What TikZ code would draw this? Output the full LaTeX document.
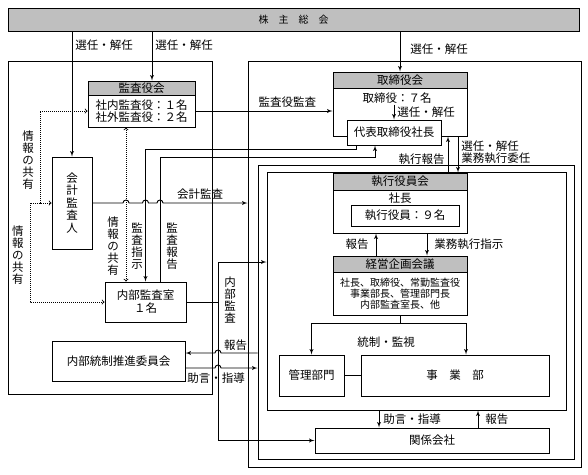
\documentclass[tikz,border=0pt]{standalone}
\usepackage{fontspec}
\setmainfont{Noto Sans CJK JP}
\usetikzlibrary{arrows,calc}

\begin{document}
\begin{tikzpicture}[>=latex',x=1pt,y=-1pt,line width=0.9pt]
 \tikzstyle{frame}=[draw,rectangle,inner sep=0pt,line width=1pt]
 \tikzstyle{box}=[draw,rectangle,inner sep=0pt,line width=1pt,fill=white,align=center,font=\fontsize{11.5}{13}\selectfont]
 \tikzstyle{head}=[box,fill=gray!50,anchor=north]
 \tikzstyle{txt}=[inner sep=0pt,align=center,font=\fontsize{11.5}{12.5}\selectfont]
 \tikzstyle{lbl}=[inner sep=0pt,align=left,font=\fontsize{11.5}{12}\selectfont]
 \tikzstyle{vlbl}=[inner sep=0pt,align=center,font=\fontsize{11.5}{12}\selectfont]
 \tikzstyle{small}=[inner sep=0pt,align=center,font=\fontsize{10}{11}\selectfont]
 \tikzstyle{info}=[dash pattern=on 1pt off 1pt,<->,>=to]

 \useasboundingbox (0,0) rectangle (588,474);

 \node (meeting) at (293.5,19.5) [box,fill=gray!50,minimum width=571pt,minimum height=23pt,font=\fontsize{10}{12}\selectfont] {株　主　総　会};
 \node (leftframe) at (110,227.5) [frame,minimum width=204pt,minimum height=333pt] {};
 \node (outerframe) at (414.5,264) [frame,minimum width=333pt,minimum height=406pt] {};
 \node (midframe) at (416,312) [frame,minimum width=316pt,minimum height=294pt] {};
 \node (innerframe) at (416.5,291) [frame,minimum width=299pt,minimum height=238pt] {};

 % audit side
 \node (kansa) at (141.5,104) [box,minimum width=107pt,minimum height=46pt] {};
 \node (kansaH) at (kansa.north) [head,minimum width=107pt,minimum height=14pt] {監査役会};
 \node (kansaTxt) at (141.5,111) [txt] {社内監査役：１名\\社外監査役：２名};
 \node (kaikei) at (72,203) [box,minimum width=40pt,minimum height=92pt,font=\fontsize{11.5}{12.5}\selectfont] {会\\計\\監\\査\\人};
 \node (naibu) at (145.5,302) [box,minimum width=81pt,minimum height=40pt] {内部監査室\\１名};
 \node (tosei) at (118.5,361) [box,minimum width=133pt,minimum height=40pt] {内部統制推進委員会};

 % board side
 \node (tori) at (400,104) [box,minimum width=134pt,minimum height=64pt] {};
 \node (toriH) at (tori.north) [head,minimum width=134pt,minimum height=16pt] {取締役会};
 \node (toriTxt) at (397,98) [txt] {取締役：７名};
 \node (daihyo) at (394,132.5) [box,minimum width=94pt,minimum height=25pt] {代表取締役社長};

 \node (shikko) at (400,203) [box,minimum width=134pt,minimum height=60pt] {};
 \node (shikkoH) at (shikko.north) [head,minimum width=134pt,minimum height=17pt] {執行役員会};
 \node (shacho) at (400,198.5) [txt] {社長};
 \node (yakuin) at (405,215.5) [box,minimum width=108pt,minimum height=21pt] {執行役員：９名};

 \node (keiei) at (400,285.5) [box,minimum width=134pt,minimum height=59pt] {};
 \node (keieiH) at (keiei.north) [head,minimum width=134pt,minimum height=16pt] {経営企画会議};
 \node (member) at (400,294) [small] {社長、取締役、常勤監査役\\事業部長、管理部門長\\内部監査室長、他};

 \node (kanri) at (311.5,375.5) [box,minimum width=65pt,minimum height=41pt] {管理部門};
 \node (jigyo) at (455,375.5) [box,minimum width=188pt,minimum height=41pt] {事　業　部};
 \node (kankei) at (432,440.5) [box,minimum width=234pt,minimum height=25pt] {関係会社};

 \coordinate (audit) at (0,111);
 \coordinate (instr) at (356,149);
 \coordinate (rep) at (375,157);
 \coordinate (share1) at (40,160);
 \coordinate (share2) at (30,250);
 \coordinate (share3) at (126,200);
 \coordinate (audIn) at (218,262);
 \coordinate (rA) at (0,353);
 \coordinate (rB) at (0,368);
 \coordinate (ctl) at (0,323);
 \coordinate (kansaIn) at ([xshift=10.5pt]kansa.north);
 \coordinate (upR) at ([xshift=48pt]shikko.north);
 \coordinate (dnR) at ([xshift=58pt]shikko.north);
 \coordinate (advK) at ([xshift=-53pt]kankei.north);
 \coordinate (repK) at ([xshift=46pt]kankei.north);
 \coordinate (ctlR) at ([xshift=11pt]jigyo.north);

 \draw [->] (meeting.south -| kaikei.north) to node[lbl,pos=0.11,anchor=west,xshift=3pt] {選任・解任} (kaikei.north);
 \draw [->] (meeting.south -| kansaIn) to node[lbl,pos=0.28,anchor=west,xshift=3pt] {選任・解任} (kansaIn);
 \draw [->] (meeting.south -| tori.north) to node[lbl,pos=0.44,anchor=west,xshift=10pt] {選任・解任} (tori.north);
 \draw [->] (kansa.east |- audit) to node[lbl,pos=0.67,above=3pt] {監査役監査} (tori.west |- audit);
 \draw [->] ([yshift=15pt]daihyo.north) to node[lbl,right=3pt] {選任・解任} (daihyo.north);

 \draw [->] (daihyo.south -| instr) -- (instr) -| (naibu.north);
 \draw [->] ([xshift=14.5pt]naibu.north) |- (rep) -- (daihyo.south -| rep);
 % hops over the three uprights
 \draw [->] (kaikei.east) -- (123,203) arc[start angle=180,end angle=0,radius=3pt]
   -- (142.5,203) arc[start angle=180,end angle=0,radius=3pt]
   -- (157,203) arc[start angle=180,end angle=0,radius=3pt]
   -- node[lbl,above=3pt,pos=0.44] {会計監査} (outerframe.west |- kaikei.east);

 \draw [info] (kansa.west |- audit) -| (share1) |- (kaikei.west);
 \draw [info,->] (share1 |- kaikei.west) -| (share2) |- (naibu.west);
 \draw [info] (kansa.south -| share3) -- (naibu.north -| share3);

 \draw [->] (naibu.east) -| (audIn) -- (innerframe.west |- audIn);
 \draw [->] (audIn) |- (kankei.west);
 \draw [->] (midframe.west |- rA) -- node[lbl,above=2pt,pos=0.6] {報告} (221,353)
   arc[start angle=0,end angle=180,radius=3pt] -- (tosei.east |- rA);
 \draw [->] (tosei.east |- rB) -- (215,368) arc[start angle=180,end angle=0,radius=3pt] -- (midframe.west |- rB);
 \node (advice) at (216,378) [lbl] {助言・指導};

 \draw [->] (upR) to node[lbl,pos=0.38,anchor=east,xshift=-3pt] {執行報告} (upR |- tori.south);
 \draw [->] (dnR |- tori.south) to node[lbl,pos=0.43,anchor=west,xshift=3pt] {選任・解任\\業務執行委任} (dnR);
 \draw [->] ([xshift=-24pt]keiei.north) to node[lbl,left=7pt] {報告} ([xshift=-24pt]shikko.south);
 \draw [->] ([xshift=27pt]shikko.south) to node[lbl,right=7pt] {業務執行指示} ([xshift=27pt]keiei.north);
 \draw (keiei.south) -- (keiei.south |- ctl);
 \draw [->] (keiei.south |- ctl) -| (kanri.north);
 \draw [->] (keiei.south |- ctl) -| (ctlR);
 \node (ctlTxt) at (386,342) [lbl] {統制・監視};
 \draw (kanri) -- (jigyo);
 \draw [->] (advK |- innerframe.south) to node[lbl,right=4pt] {助言・指導} (advK);
 \draw [->] (repK) to node[lbl,right=7pt] {報告} (repK |- innerframe.south);

 \node (share1Txt) at (28,160) [vlbl] {情\\報\\の\\共\\有};
 \node (share2Txt) at (18,255) [vlbl] {情\\報\\の\\共\\有};
 \node (share3Txt) at (113,246) [vlbl] {情\\報\\の\\共\\有};
 \node (instrTxt) at (137,246.5) [vlbl] {監\\査\\指\\示};
 \node (repTxt) at (172,246.5) [vlbl] {監\\査\\報\\告};
 \node (audTxt) at (230,300) [vlbl] {内\\部\\監\\査};
\end{tikzpicture}
\end{document}
